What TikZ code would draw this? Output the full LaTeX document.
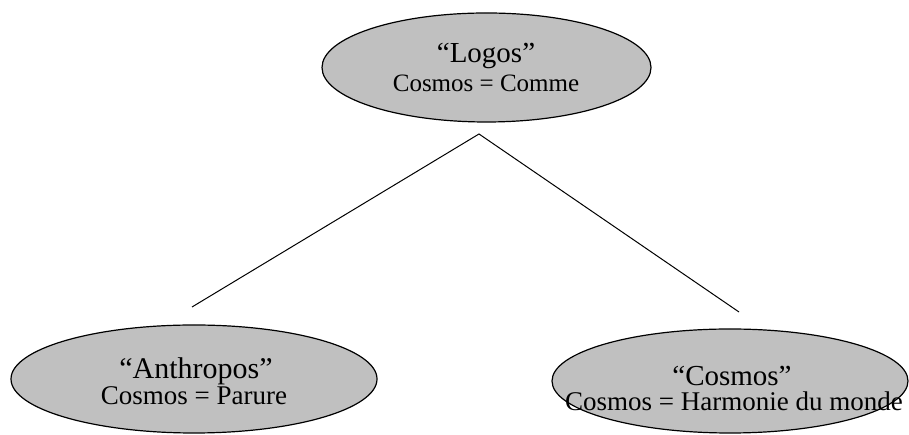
\documentclass[tikz,border=0pt]{standalone}
\usepackage{fontspec}
\setmainfont{Liberation Serif}
\usetikzlibrary{shapes.geometric}
\definecolor{bubblegray}{RGB}{192,192,192}
\begin{document}
\begin{tikzpicture}[x=1pt,y=1pt,
  bubble/.style={ellipse, draw=black, line width=1.2pt, fill=bubblegray, inner sep=0pt},
  title/.style={anchor=base, inner sep=0pt, font=\fontsize{29}{30}\selectfont},
  sub/.style={anchor=base, inner sep=0pt, font=\fontsize{25}{26}\selectfont},
  link/.style={draw=black, line width=1pt}]
\useasboundingbox (0,0) rectangle (909,435);
% top
\node[bubble, minimum width=329pt, minimum height=109pt] (logos) at (486.5,367.5) {};
\node[title] (logos-t) at (486,372) {“Logos”};
\node[sub] (logos-s) at (486,343) {Cosmos = Comme};
% left
\node[bubble, minimum width=366pt, minimum height=108pt] (anthropos) at (194,56) {};
\node[title, font=\fontsize{30}{31}\selectfont] (anthropos-t) at (196,56) {“Anthropos”};
\node[sub, font=\fontsize{27}{28}\selectfont] (anthropos-s) at (194,30) {Cosmos = Parure};
% right
\node[bubble, minimum width=356pt, minimum height=104pt] (cosmos) at (730,54) {};
\node[title, font=\fontsize{29}{30}\selectfont] (cosmos-t) at (732,49) {“Cosmos”};
\node[sub, font=\fontsize{27}{28}\selectfont] (cosmos-s) at (734,24) {Cosmos = Harmonie du monde};
% connectors
\coordinate (apex) at (479,301);
\coordinate (lend) at (192,128);
\coordinate (rend) at (739,123);
\draw[link] (lend) -- (apex) -- (rend);
\end{tikzpicture}
\end{document}
